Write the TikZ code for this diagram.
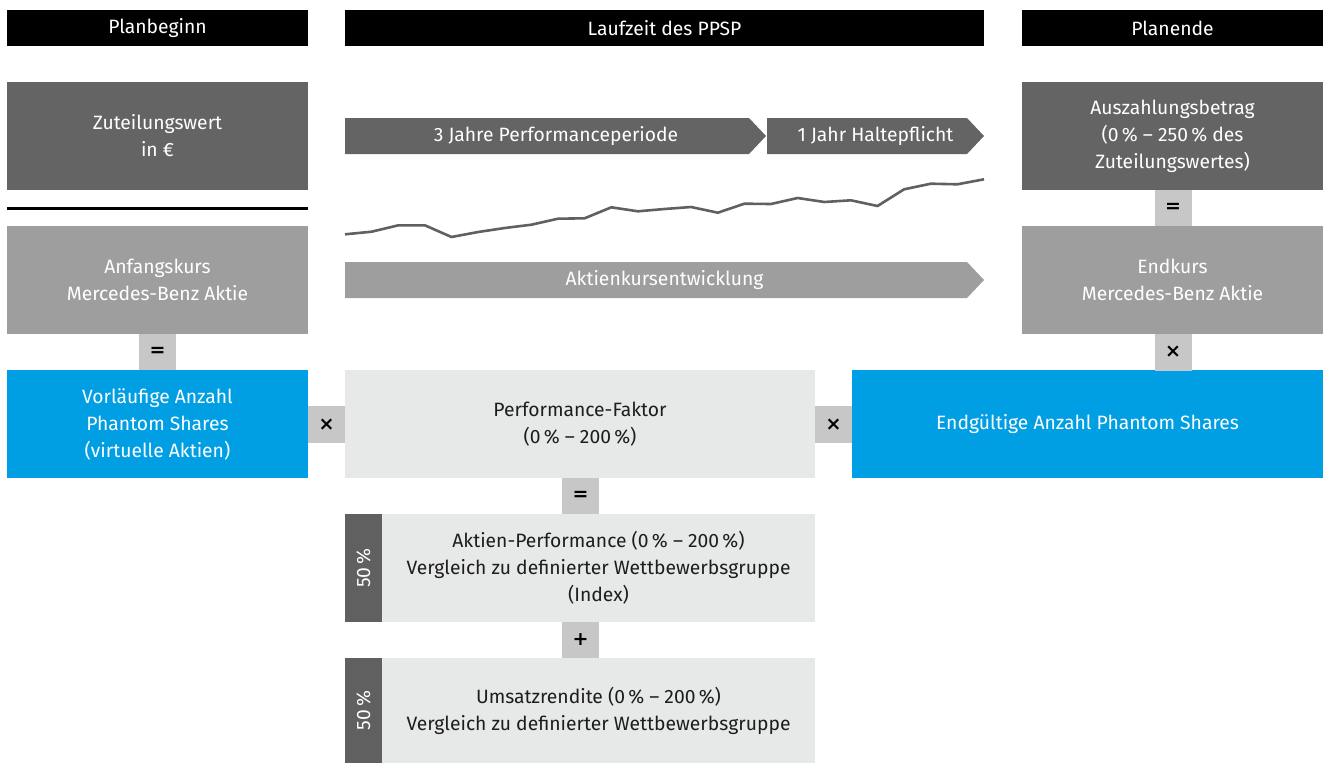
\documentclass[tikz,border=0pt]{standalone}
\usepackage{fontspec}
\setmainfont{Fira Sans}
\newfontfamily\opfont{DejaVu Sans}
\definecolor{dgrey}{HTML}{636463}
\definecolor{mgrey}{HTML}{9D9E9D}
\definecolor{lgrey}{HTML}{E7E8E8}
\definecolor{opgrey}{HTML}{C6C7C6}
\definecolor{mbblue}{HTML}{009FE3}
\definecolor{strip}{HTML}{5F605F}
\definecolor{txt}{HTML}{1D1D1B}
\begin{document}
\begin{tikzpicture}[x=1pt,y=-1pt,
  base/.style={rectangle, inner sep=0pt, outer sep=0pt, align=center,
    font=\fontsize{19.3}{27}\selectfont},
  hdr/.style={base, fill=black, text=white, minimum height=36pt},
  dbox/.style={base, fill=dgrey, text=white, minimum width=301pt, minimum height=108pt},
  mbox/.style={base, fill=mgrey, text=white, minimum width=301pt, minimum height=108pt},
  bbox/.style={base, fill=mbblue, text=white, minimum height=108pt},
  lbox/.style={base, fill=lgrey, text=txt},
  opbox/.style={base, fill=opgrey, text=black, minimum width=37pt, minimum height=37pt,
    font=\opfont\bfseries\fontsize{19}{20}\selectfont},
  sigtext/.style={base, text=white},
  stripbox/.style={base, fill=strip, minimum width=37pt},
  chart/.style={draw=strip, line width=2.6pt, line join=round}]
\useasboundingbox (0,0) rectangle (1324,763);

% headers
\node[hdr, minimum width=301pt] (h1) at (157.5,28) {Planbeginn};
\node[hdr, minimum width=639pt] (h2) at (664.5,28) {Laufzeit des PPSP};
\node[hdr, minimum width=301pt] (h3) at (1172.5,28) {Planende};

% left column
\node[dbox] (zw) at (157.5,136) {Zuteilungswert\\in €};
\coordinate (barl) at (7,208.5);
\coordinate (barr) at (308,208.5);
\draw[line width=3pt, black] (barl) -- (barr);
\node[mbox] (ak) at (157.5,280) {Anfangskurs\\Mercedes-Benz Aktie};
\node[opbox] (eq1) at (157.5,352) {=};
\node[bbox, minimum width=301pt] (va) at (157.5,424) {Vorläufige Anzahl\\Phantom Shares\\(virtuelle Aktien)};

% middle: chevron bands
\fill[dgrey] (345,118) -- (749,118) -- (766,136) -- (749,154) -- (345,154) -- cycle;
\node[sigtext] (p1) at (556,136) {3 Jahre Performanceperiode};
\fill[dgrey] (767,118) -- (967,118) -- (984,136) -- (967,154) -- (767,154) -- cycle;
\node[sigtext] (p2) at (875.5,136) {1 Jahr Haltepflicht};
\draw[chart] plot coordinates {(345,234.3) (371.6,231.7) (398.3,225.3) (424.9,225.3)
  (451.5,237) (478.1,232) (504.8,228) (531.4,224.7) (558,218.7) (584.6,218.3)
  (611.3,207.3) (637.9,211.3) (664.5,209) (691.1,207) (717.8,212.7) (744.4,203.7)
  (771,204) (797.6,198) (824.3,202) (850.9,200.3) (877.5,206) (904.1,189.3)
  (930.8,183.7) (957.4,184.3) (984,179.3)};
\fill[mgrey] (345,262) -- (967,262) -- (984,280) -- (967,298) -- (345,298) -- cycle;
\node[sigtext] (ake) at (664.5,280) {Aktienkursentwicklung};

\node[opbox] (x1) at (326.5,424.5) {×};
\node[lbox, minimum width=470pt, minimum height=108pt] (pf) at (580,424) {Performance-Faktor\\(0\,\% – 200\,\%)};
\node[opbox] (x2) at (833.5,424.5) {×};
\node[bbox, minimum width=471pt] (eg) at (1087.5,424) {Endgültige Anzahl Phantom Shares};

\node[opbox] (eq2) at (580.5,496) {=};
\node[stripbox, minimum height=108pt] (s1) at (363.5,568) {};
\node[rotate=90, text=white, font=\fontsize{19.3}{20}\selectfont] (s1t) at (s1.center) {50\,\%};
\node[lbox, minimum width=433pt, minimum height=108pt] (ap) at (598.5,568)
  {Aktien-Performance (0\,\% – 200\,\%)\\Vergleich zu definierter Wettbewerbsgruppe\\(Index)};
\node[opbox] (plus) at (580.5,640) {+};
\node[stripbox, minimum height=105pt] (s2) at (363.5,710.5) {};
\node[rotate=90, text=white, font=\fontsize{19.3}{20}\selectfont] (s2t) at (s2.center) {50\,\%};
\node[lbox, minimum width=433pt, minimum height=105pt] (ur) at (598.5,710.5)
  {Umsatzrendite (0\,\% – 200\,\%)\\Vergleich zu definierter Wettbewerbsgruppe};

% right column
\node[dbox] (ab) at (1172.5,136) {Auszahlungsbetrag\\(0\,\% – 250\,\% des\\Zuteilungswertes)};
\node[opbox] (eq3) at (1173,208) {=};
\node[mbox] (ek) at (1172.5,280) {Endkurs\\Mercedes-Benz Aktie};
\node[opbox] (x3) at (1173,352) {×};
\end{tikzpicture}
\end{document}
